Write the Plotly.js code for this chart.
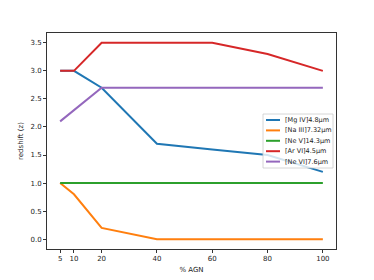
<!DOCTYPE html>
<html><head><meta charset="utf-8">
<script src="https://cdn.plot.ly/plotly-3.0.1.min.js"></script>
<style>body{margin:0;background:#fff}#c{width:374px;height:280px}</style>
</head><body><div id="c"></div>
<script>
const agn = [5, 10, 20, 40, 60, 80, 100];
const names = ["[Mg IV]4.8µm", "[Na III]7.32µm", "[Ne V]14.3µm", "[Ar VI]4.5µm", "[Ne VI]7.6µm"];
const mgIV  = [3.0, 3.0, 2.7, 1.7, 1.6, 1.5, 1.2];
const naIII = [1.0, 0.8, 0.2, 0.0, 0.0, 0.0, 0.0];
const neV   = [1.0, 1.0, 1.0, 1.0, 1.0, 1.0, 1.0];
const arVI  = [3.0, 3.0, 3.5, 3.5, 3.5, 3.3, 3.0];
const neVI  = [2.1, 2.3, 2.7, 2.7, 2.7, 2.7, 2.7];
const series = [mgIV, naIII, neV, arVI, neVI];
const colors = ["#1f77b4", "#ff7f0e", "#2ca02c", "#d62728", "#9467bd"];
const xTicks = [5, 10, 20, 40, 60, 80, 100];
const yTicks = [0, 0.5, 1.0, 1.5, 2.0, 2.5, 3.0, 3.5];

const M = {l: 47, r: 38, t: 33, b: 31}, W = 374, H = 280;
const pw = W - M.l - M.r, ph = H - M.t - M.b;
const px = x => (x - M.l) / pw, py = y => (H - M.b - y) / ph;

const traces = series.map((s, i) => ({
  x: agn, y: s, name: names[i], type: "scatter", mode: "lines",
  line: {color: colors[i], width: 2}, showlegend: false
}));
const font = {family: "DejaVu Sans, sans-serif", size: 7, color: "#222"};

// custom legend (matplotlib-like compact spacing)
const shapes = [{type: "rect", xref: "paper", yref: "paper",
  x0: px(263), x1: px(333), y0: py(168), y1: py(114),
  fillcolor: "rgba(255,255,255,0.8)", line: {color: "#ccc", width: 0.8}, layer: "above"}];
const annotations = [];
names.forEach((n, i) => {
  const yy = 120 + i * 10.4;
  shapes.push({type: "line", xref: "paper", yref: "paper",
    x0: px(266), x1: px(280), y0: py(yy), y1: py(yy),
    line: {color: colors[i], width: 2}, layer: "above"});
  annotations.push({xref: "paper", yref: "paper", x: px(283), y: py(yy),
    xanchor: "left", yanchor: "middle", showarrow: false, text: n,
    font: {family: "DejaVu Sans, sans-serif", size: 6.5, color: "#222"}});
});

const layout = {
  width: W, height: H, margin: M,
  paper_bgcolor: "#fff", plot_bgcolor: "#fff",
  font: font, showlegend: false, shapes: shapes, annotations: annotations,
  xaxis: {range: [0.25, 104.75], tickvals: xTicks, ticktext: xTicks.map(String),
    showgrid: false, zeroline: false, showline: true, mirror: true,
    linecolor: "#333", linewidth: 1, ticks: "outside", ticklen: 3, tickcolor: "#333",
    tickfont: font, title: {text: "% AGN", font: font, standoff: 4}},
  yaxis: {range: [-0.175, 3.675], tickvals: yTicks, ticktext: yTicks.map(v => v.toFixed(1)),
    showgrid: false, zeroline: false, showline: true, mirror: true,
    linecolor: "#333", linewidth: 1, ticks: "outside", ticklen: 3, tickcolor: "#333",
    tickfont: font, title: {text: "redshift (z)", font: font, standoff: 6}}
};
Plotly.newPlot("c", traces, layout, {displayModeBar: false, staticPlot: true});
</script></body></html>
